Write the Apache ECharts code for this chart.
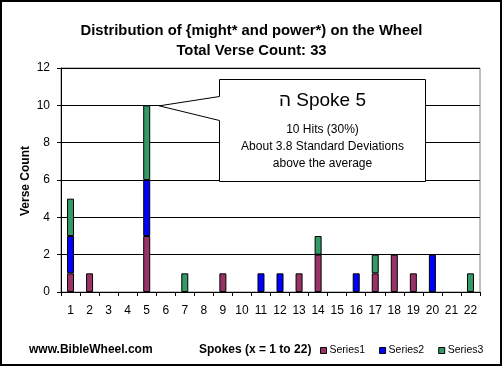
<!DOCTYPE html>
<html>
<head>
<meta charset="utf-8">
<script src="https://cdn.jsdelivr.net/npm/echarts@6/dist/echarts.min.js"></script>
<style>
html,body{margin:0;padding:0;background:#fff;}
#c{width:503px;height:367px;}
</style>
</head>
<body>
<div id="c"></div>
<script>
var spokes = ['1','2','3','4','5','6','7','8','9','10','11','12','13','14','15','16','17','18','19','20','21','22'];
var series1 = [1,1,0,0,3,0,0,0,1,0,0,0,1,2,0,0,1,2,1,0,0,0];
var series2 = [2,0,0,0,3,0,0,0,0,0,1,1,0,0,0,1,0,0,0,2,0,0];
var series3 = [2,0,0,0,4,0,1,0,0,0,0,0,0,1,0,0,1,0,0,0,0,1];
var seriesNames = ['Series1','Series2','Series3'];
var seriesColors = ['#993366','#0000FF','#339966'];
var yTicks = [0,2,4,6,8,10,12];
var titleLines = ['Distribution of {might* and power*) on the Wheel','Total Verse Count: 33'];
var yTitle = 'Verse Count';
var calloutSpoke = 4; // index of spoke 5
var calloutValue = 10;
var calloutLines = ['\u05D4 Spoke 5','10 Hits (30%)','About 3.8 Standard Deviations','above the average'];

var FONT = '"Liberation Sans", Arial, sans-serif';
var chart = echarts.init(document.getElementById('c'), null, {renderer:'canvas'});
function nz(a){ return a.map(function(v){ return v === 0 ? null : v; }); }
var data = [series1, series2, series3];

var option = {
  animation:false,
  backgroundColor:'#fff',
  title:{
    text: titleLines.join('\n'),
    left:'center', top:16,
    textStyle:{fontFamily:FONT, fontSize:14.8, fontWeight:'bold', color:'#000', lineHeight:20}
  },
  grid:{left:61, right:23, top:68, bottom:75, show:true, borderColor:'#808080', borderWidth:1, backgroundColor:'#fff'},
  legend:{
    data: seriesNames,
    left:320, top:345, padding:0,
    itemWidth:6, itemHeight:6, itemGap:14,
    icon:'rect',
    itemStyle:{borderColor:'#000', borderWidth:1},
    textStyle:{fontFamily:FONT, fontSize:10.5, color:'#000', padding:[0,0,0,-2]}
  },
  xAxis:{
    type:'category', data: spokes,
    axisLine:{lineStyle:{color:'#000', width:1}},
    axisTick:{show:true, length:4, lineStyle:{color:'#000'}},
    axisLabel:{fontFamily:FONT, fontSize:12, color:'#000', margin:13},
    splitLine:{show:false}
  },
  yAxis:{
    type:'value', min:yTicks[0], max:yTicks[yTicks.length-1], interval:yTicks[1]-yTicks[0],
    axisLine:{show:true, lineStyle:{color:'#000', width:1}},
    axisTick:{show:true, length:4, lineStyle:{color:'#000'}},
    axisLabel:{fontFamily:FONT, fontSize:12, color:'#000', margin:11},
    splitLine:{show:true, lineStyle:{color:'#000', width:1}}
  },
  series: data.map(function(d,i){
    return {
      name: seriesNames[i], type:'bar', stack:'total', barWidth:7,
      data: nz(d),
      itemStyle:{color: seriesColors[i], borderColor:'#000', borderWidth:1}
    };
  })
};
chart.setOption(option);

var tip = chart.convertToPixel({xAxisIndex:0, yAxisIndex:0}, [calloutSpoke, calloutValue]);
var tx = tip[0] + 12.5, ty = tip[1];
var bx0 = 219.5, by0 = 79.5, bx1 = 425.5, by1 = 181.5;
var cx = (bx0 + bx1) / 2;
chart.setOption({
  graphic:[
    {type:'rect', shape:{x:1, y:1, width:500, height:364}, style:{fill:null, stroke:'#000', lineWidth:2}, z:100},
    {type:'polygon', z:50,
      shape:{points:[[bx0,by0],[bx1,by0],[bx1,by1],[bx0,by1],[bx0,120.5],[tx,ty+0.5],[bx0,96.5]]},
      style:{fill:'#fff', stroke:'#000', lineWidth:1}},
    {type:'text', z:51, x:cx, y:101, style:{text:calloutLines[0], fontFamily:FONT, fontSize:19, fill:'#000', align:'center', verticalAlign:'middle'}},
    {type:'text', z:51, x:cx, y:130, style:{text:calloutLines[1], fontFamily:FONT, fontSize:12, fill:'#000', align:'center', verticalAlign:'middle'}},
    {type:'text', z:51, x:cx, y:147, style:{text:calloutLines[2], fontFamily:FONT, fontSize:12, fill:'#000', align:'center', verticalAlign:'middle'}},
    {type:'text', z:51, x:cx, y:164, style:{text:calloutLines[3], fontFamily:FONT, fontSize:12, fill:'#000', align:'center', verticalAlign:'middle'}},
    {type:'text', x:26, y:181, rotation:Math.PI/2, style:{text:yTitle, fontFamily:FONT, fontSize:12, fontWeight:'bold', fill:'#000', align:'center', verticalAlign:'middle'}},
    {type:'text', x:29, y:350, style:{text:'www.BibleWheel.com', fontFamily:FONT, fontSize:12, fontWeight:'bold', fill:'#000', align:'left', verticalAlign:'middle'}},
    {type:'text', x:199, y:350, style:{text:'Spokes (x = 1 to 22)', fontFamily:FONT, fontSize:12, fontWeight:'bold', fill:'#000', align:'left', verticalAlign:'middle'}}
  ]
});
</script>
</body>
</html>
